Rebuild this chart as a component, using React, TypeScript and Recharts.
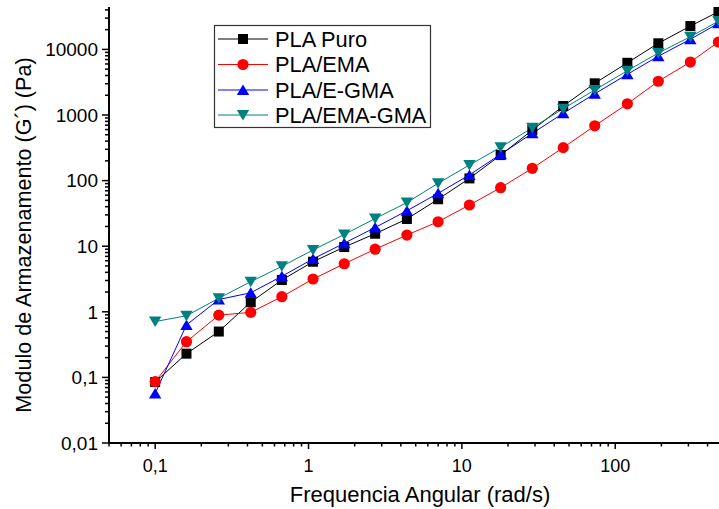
import React from 'react';
import { LineChart, Line, XAxis, YAxis, Legend } from 'recharts';

// Angular frequency (rad/s)
const frequencies = [0.1, 0.16, 0.26, 0.42, 0.67, 1.07, 1.71, 2.72, 4.38, 7.0, 11.2, 17.9, 28.8, 45.8, 73.5, 120, 191, 309, 471];

// Storage modulus G' (Pa)
const plaPuro = [0.085, 0.23, 0.5, 1.4, 3.05, 5.8, 9.7, 15.5, 26, 52, 108, 245, 590, 1370, 3040, 6250, 12400, 22700, 37600];
const plaEma = [0.086, 0.35, 0.89, 0.98, 1.7, 3.16, 5.4, 9.0, 14.8, 23.6, 42.5, 78, 154, 318, 684, 1480, 3270, 6420, 12970];
const plaEGma = [0.057, 0.63, 1.54, 1.95, 3.48, 6.4, 11.1, 19.3, 34.7, 64, 122, 252, 526, 1062, 2105, 4170, 7870, 14260, 25000];
const plaEmaGma = [0.71, 0.87, 1.61, 2.88, 4.94, 8.75, 15.1, 26.4, 46.3, 91, 173, 322, 640, 1248, 2404, 4733, 8810, 15600, 26900];

const seriesNames = ['PLA Puro', 'PLA/EMA', 'PLA/E-GMA', 'PLA/EMA-GMA'];
const seriesKeys = ['puro', 'ema', 'egma', 'emagma'];
const seriesColors = ['#000000', '#ff0000', '#0000ff', '#008080'];
const seriesShapes = ['square', 'circle', 'triangle', 'invtriangle'];

const xMajorTicks = [0.1, 1, 10, 100];
const xTicks = [
  0.05, 0.06, 0.07, 0.08, 0.09,
  0.1, 0.2, 0.3, 0.4, 0.5, 0.6, 0.7, 0.8, 0.9,
  1, 2, 3, 4, 5, 6, 7, 8, 9,
  10, 20, 30, 40, 50, 60, 70, 80, 90,
  100, 200, 300, 400,
];
const yMajorTicks = [0.01, 0.1, 1, 10, 100, 1000, 10000];
const yTicks = [
  0.01, 0.02, 0.03, 0.04, 0.05, 0.06, 0.07, 0.08, 0.09,
  0.1, 0.2, 0.3, 0.4, 0.5, 0.6, 0.7, 0.8, 0.9,
  1, 2, 3, 4, 5, 6, 7, 8, 9,
  10, 20, 30, 40, 50, 60, 70, 80, 90,
  100, 200, 300, 400, 500, 600, 700, 800, 900,
  1000, 2000, 3000, 4000, 5000, 6000, 7000, 8000, 9000,
  10000, 20000, 30000, 40000,
];

const xTitle = 'Frequencia Angular (rad/s)';
const yTitle = 'Modulo de Armazenamento (G´) (Pa)';

const data = frequencies.map((f, i) => ({
  f,
  puro: plaPuro[i],
  ema: plaEma[i],
  egma: plaEGma[i],
  emagma: plaEmaGma[i],
}));

const FONT = '"Liberation Sans", Arial, sans-serif';
const fmt = (v: number) => String(v).replace('.', ',');

function Marker({ shape, cx, cy, color }: { shape: string; cx: number; cy: number; color: string }) {
  if (cx == null || cy == null || isNaN(cx) || isNaN(cy)) return null;
  if (shape === 'square') {
    return <rect x={cx - 5} y={cy - 5} width={10} height={10} fill={color} />;
  }
  if (shape === 'circle') {
    return <circle cx={cx} cy={cy} r={5.6} fill={color} />;
  }
  if (shape === 'triangle') {
    return <polygon points={`${cx},${cy - 5.5} ${cx - 6.2},${cy + 5} ${cx + 6.2},${cy + 5}`} fill={color} />;
  }
  return <polygon points={`${cx},${cy + 5.5} ${cx - 6.2},${cy - 5} ${cx + 6.2},${cy - 5}`} fill={color} />;
}

const XTick = (props: any) => {
  const { x, y, payload } = props;
  const v = payload.value;
  const major = xMajorTicks.includes(v);
  return (
    <g>
      <line x1={x} x2={x} y1={y} y2={y + (major ? 6 : 3.5)} stroke="#000" strokeWidth={1.5} />
      {major && (
        <text x={x} y={y + 29} textAnchor="middle" fontSize={18} fontFamily={FONT} fill="#000">
          {fmt(v)}
        </text>
      )}
    </g>
  );
};

const YTick = (props: any) => {
  const { x, y, payload } = props;
  const v = payload.value;
  const major = yMajorTicks.includes(v);
  return (
    <g>
      <line x1={x} x2={x - (major ? 7 : 4)} y1={y} y2={y} stroke="#000" strokeWidth={1.5} />
      {major && (
        <text x={x - 11} y={y} dy="0.36em" textAnchor="end" fontSize={19} fontFamily={FONT} fill="#000">
          {fmt(v)}
        </text>
      )}
    </g>
  );
};

const LegendBox = () => {
  const rowY = [14, 39.5, 65, 90];
  return (
    <svg width={218} height={104} style={{ display: 'block', overflow: 'visible' }}>
      <rect x={0.5} y={0.5} width={216} height={102} fill="#fff" stroke="#333" strokeWidth={1.2} />
      {seriesNames.map((name, i) => (
        <g key={name}>
          <line x1={4} x2={54} y1={rowY[i]} y2={rowY[i]} stroke={seriesColors[i]} strokeWidth={1} />
          <Marker shape={seriesShapes[i]} cx={29} cy={rowY[i]} color={seriesColors[i]} />
          <text x={61} y={rowY[i]} dy="0.36em" fontSize={21.8} fontFamily={FONT} fill="#000">
            {name}
          </text>
        </g>
      ))}
    </svg>
  );
};

export default function App() {
  return (
    <div style={{ position: 'absolute', left: 0, top: 0, width: 719, height: 509, background: '#fff' }}>
      <LineChart width={719} height={509} data={data} margin={{ top: 7, right: 0, bottom: 0, left: 0 }}>
        <XAxis
          dataKey="f"
          type="number"
          scale="log"
          domain={[0.05, 475]}
          allowDataOverflow
          ticks={xTicks}
          interval={0}
          tickLine={false}
          tickSize={0}
          tickMargin={0}
          tick={<XTick />}
          axisLine={{ stroke: '#000', strokeWidth: 2 }}
          height={66}
          label={{
            content: (p: any) => {
              const vb = p.viewBox || { x: 109, y: 443, width: 610 };
              return (
                <text x={vb.x + vb.width / 2 + 6} y={vb.y + 59} textAnchor="middle" fontSize={22} fontFamily={FONT} fill="#000">
                  {xTitle}
                </text>
              );
            },
          }}
        />
        <YAxis
          type="number"
          scale="log"
          domain={[0.01, 44300]}
          allowDataOverflow
          ticks={yTicks}
          interval={0}
          tickLine={false}
          tickSize={0}
          tickMargin={0}
          tick={<YTick />}
          axisLine={{ stroke: '#000', strokeWidth: 2 }}
          width={109}
          label={{
            content: (p: any) => {
              const vb = p.viewBox || { x: 0, y: 7, width: 109, height: 436 };
              const cx = 31;
              const cy = vb.y + vb.height / 2 + 10;
              return (
                <text x={cx} y={cy} transform={`rotate(-90, ${cx}, ${cy})`} textAnchor="middle" fontSize={21.6} fontFamily={FONT} fill="#000">
                  {yTitle}
                </text>
              );
            },
          }}
        />
        <Legend
          content={<LegendBox />}
          layout="vertical"
          align="center"
          verticalAlign="middle"
          wrapperStyle={{ position: 'absolute', left: 214, top: 25, width: 218, height: 104 }}
        />
        {seriesKeys.map((k, i) => (
          <Line
            key={k}
            type="linear"
            dataKey={k}
            name={seriesNames[i]}
            stroke={seriesColors[i]}
            strokeWidth={1}
            isAnimationActive={false}
            activeDot={false}
            dot={(p: any) => (
              <Marker key={`${k}-${p.index}`} shape={seriesShapes[i]} cx={p.cx} cy={p.cy} color={seriesColors[i]} />
            )}
          />
        ))}
      </LineChart>
    </div>
  );
}
